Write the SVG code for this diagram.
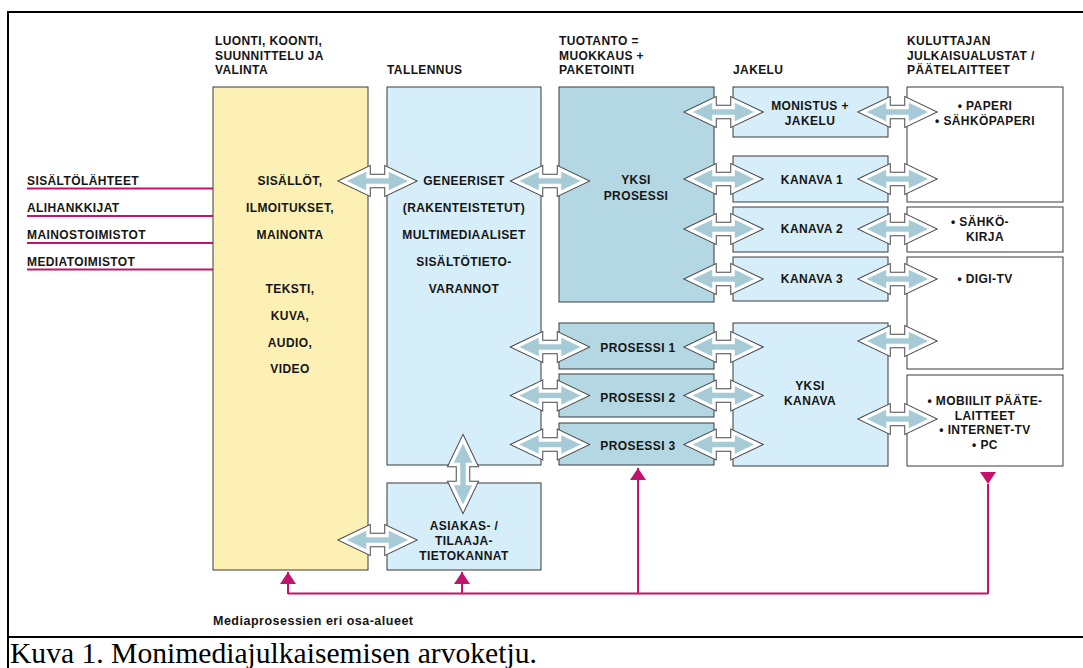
<svg xmlns="http://www.w3.org/2000/svg" xmlns:xlink="http://www.w3.org/1999/xlink" width="1083" height="668" viewBox="0 0 1083 668">
  <style>
    .lbl { font-family: "Liberation Sans", Arial, sans-serif; font-weight: bold; font-size: 12px; letter-spacing: 0.4px; fill: #151515; }
    .mid { text-anchor: middle; }
    .box { stroke: #3a3a3a; stroke-width: 1; }
    .yellow { fill: #fdf0b5; }
    .light { fill: #d5eefa; }
    .dark { fill: #b4d8e3; }
    .white { fill: #ffffff; }
    .arrow-edge { fill: none; stroke: #4a4a4a; stroke-width: 5.5; stroke-linejoin: miter; }
    .arrow-body { fill: #a6cbd7; stroke: #ffffff; stroke-width: 3.5; stroke-linejoin: miter; }
    .feed { fill: none; stroke: #c2146c; stroke-width: 2; }
    .frame { stroke: #000; stroke-width: 2; fill: none; }
    .caption { font-family: "Liberation Serif", "Times New Roman", serif; font-size: 29.6px; fill: #000; }
    .note { font-family: "Liberation Sans", Arial, sans-serif; font-weight: bold; font-size: 12.5px; letter-spacing: 0.5px; fill: #151515; }
  </style>
  <defs>
    <!-- double-headed block arrow, centred on the origin, pointing left/right -->
    <path id="dbl" d="M-34.5,0 L-9.5,-12 L-9.5,-4.5 L9.5,-4.5 L9.5,-12 L34.5,0 L9.5,12 L9.5,4.5 L-9.5,4.5 L-9.5,12 Z"/>
    <g id="harrow">
      <use xlink:href="#dbl" class="arrow-edge"/>
      <use xlink:href="#dbl" class="arrow-body"/>
    </g>
    <marker id="tri" markerUnits="userSpaceOnUse" markerWidth="12" markerHeight="16" refX="12" refY="8" orient="auto" viewBox="0 0 12 16">
      <path d="M0,0 L12,8 L0,16 Z" fill="#c2146c"/>
    </marker>
  </defs>

  <rect width="1083" height="668" fill="#ffffff"/>

  <!-- frame and caption cell -->
  <g id="frame">
    <line class="frame" x1="8" y1="12" x2="1083" y2="12"/>
    <line class="frame" x1="8" y1="11" x2="8" y2="668"/>
    <line class="frame" x1="8" y1="637" x2="1083" y2="637"/>
    <text class="caption" x="10" y="663">Kuva 1. Monimediajulkaisemisen arvoketju.</text>
  </g>

  <!-- column headings -->
  <g id="headings" class="lbl">
    <text x="215" y="45">LUONTI, KOONTI,</text>
    <text x="215" y="59.5">SUUNNITTELU JA</text>
    <text x="215" y="74">VALINTA</text>
    <text x="387" y="74">TALLENNUS</text>
    <text x="559" y="45">TUOTANTO =</text>
    <text x="559" y="59.5">MUOKKAUS +</text>
    <text x="559" y="74">PAKETOINTI</text>
    <text x="733" y="74">JAKELU</text>
    <text x="907" y="45">KULUTTAJAN</text>
    <text x="907" y="59.5">JULKAISUALUSTAT /</text>
    <text x="907" y="74">PÄÄTELAITTEET</text>
  </g>

  <!-- content sources feeding the creation column -->
  <g id="sources">
    <g class="lbl">
      <text x="27" y="185">SISÄLTÖLÄHTEET</text>
      <text x="27" y="212">ALIHANKKIJAT</text>
      <text x="27" y="238.5">MAINOSTOIMISTOT</text>
      <text x="27" y="265.5">MEDIATOIMISTOT</text>
    </g>
    <g class="feed">
      <line x1="27" y1="188.5" x2="213" y2="188.5"/>
      <line x1="27" y1="216" x2="213" y2="216"/>
      <line x1="27" y1="243" x2="213" y2="243"/>
      <line x1="27" y1="269.5" x2="213" y2="269.5"/>
    </g>
  </g>

  <g id="luonti">
    <rect class="box yellow" x="213" y="87" width="155" height="483"/>
    <g class="lbl mid">
      <text x="290" y="185">SISÄLLÖT,</text>
      <text x="290" y="212">ILMOITUKSET,</text>
      <text x="290" y="238.5">MAINONTA</text>
      <text x="290" y="293">TEKSTI,</text>
      <text x="290" y="320">KUVA,</text>
      <text x="290" y="347">AUDIO,</text>
      <text x="290" y="373">VIDEO</text>
    </g>
  </g>

  <g id="tallennus">
    <rect class="box light" x="387" y="87" width="154" height="378"/>
    <g class="lbl mid">
      <text x="464" y="185">GENEERISET</text>
      <text x="464" y="212">(RAKENTEISTETUT)</text>
      <text x="464" y="238.5">MULTIMEDIAALISET</text>
      <text x="464" y="266">SISÄLTÖTIETO-</text>
      <text x="464" y="293">VARANNOT</text>
    </g>
  </g>

  <g id="asiakas">
    <rect class="box light" x="387" y="483" width="154" height="87"/>
    <g class="lbl mid">
      <text x="464" y="530">ASIAKAS- /</text>
      <text x="464" y="545">TILAAJA-</text>
      <text x="464" y="560">TIETOKANNAT</text>
    </g>
  </g>

  <g id="yksi-prosessi">
    <rect class="box dark" x="559" y="87" width="155" height="215"/>
    <g class="lbl mid">
      <text x="636" y="184">YKSI</text>
      <text x="636" y="200">PROSESSI</text>
    </g>
  </g>

  <g id="prosessi-1">
    <rect class="box dark" x="559" y="323" width="155" height="46"/>
    <text class="lbl mid" x="638" y="352">PROSESSI 1</text>
  </g>
  <g id="prosessi-2">
    <rect class="box dark" x="559" y="374" width="155" height="43"/>
    <text class="lbl mid" x="638" y="401.5">PROSESSI 2</text>
  </g>
  <g id="prosessi-3">
    <rect class="box dark" x="559" y="423" width="155" height="42"/>
    <text class="lbl mid" x="638" y="450">PROSESSI 3</text>
  </g>

  <g id="monistus">
    <rect class="box light" x="733" y="87" width="155" height="50"/>
    <g class="lbl mid">
      <text x="810" y="110">MONISTUS +</text>
      <text x="810" y="125">JAKELU</text>
    </g>
  </g>
  <g id="kanava-1">
    <rect class="box light" x="733" y="156" width="155" height="46"/>
    <text class="lbl mid" x="812" y="184">KANAVA 1</text>
  </g>
  <g id="kanava-2">
    <rect class="box light" x="733" y="207" width="155" height="45"/>
    <text class="lbl mid" x="812" y="233">KANAVA 2</text>
  </g>
  <g id="kanava-3">
    <rect class="box light" x="733" y="257" width="155" height="44"/>
    <text class="lbl mid" x="812" y="283">KANAVA 3</text>
  </g>
  <g id="yksi-kanava">
    <rect class="box light" x="733" y="323" width="155" height="143"/>
    <g class="lbl mid">
      <text x="810" y="390">YKSI</text>
      <text x="810" y="405">KANAVA</text>
    </g>
  </g>

  <g id="paperi">
    <rect class="box white" x="907" y="87" width="156" height="115"/>
    <g class="lbl mid">
      <text x="985" y="110">• PAPERI</text>
      <text x="985" y="125">• SÄHKÖPAPERI</text>
    </g>
  </g>
  <g id="sahkokirja">
    <rect class="box white" x="907" y="207" width="156" height="45"/>
    <g class="lbl mid">
      <text x="980" y="226">• SÄHKÖ-</text>
      <text x="985" y="241">KIRJA</text>
    </g>
  </g>
  <g id="digi-tv">
    <rect class="box white" x="907" y="257" width="156" height="112"/>
    <text class="lbl mid" x="985" y="283">• DIGI-TV</text>
  </g>
  <g id="mobiilit">
    <rect class="box white" x="907" y="375" width="156" height="91"/>
    <g class="lbl mid">
      <text x="985" y="405">• MOBIILIT PÄÄTE-</text>
      <text x="985" y="419.5">LAITTEET</text>
      <text x="985" y="434">• INTERNET-TV</text>
      <text x="985" y="448.5">• PC</text>
    </g>
  </g>

  <g id="connectors">
    <!-- luonti <-> tallennus / asiakas -->
    <use xlink:href="#harrow" x="377.5" y="181"/>
    <use xlink:href="#harrow" x="377.5" y="540"/>
    <!-- tallennus <-> tuotanto -->
    <use xlink:href="#harrow" x="550" y="181"/>
    <use xlink:href="#harrow" x="550" y="347"/>
    <use xlink:href="#harrow" x="550" y="395.5"/>
    <use xlink:href="#harrow" x="550" y="444.5"/>
    <!-- tuotanto <-> jakelu -->
    <use xlink:href="#harrow" x="723.5" y="112"/>
    <use xlink:href="#harrow" x="723.5" y="179"/>
    <use xlink:href="#harrow" x="723.5" y="229"/>
    <use xlink:href="#harrow" x="723.5" y="279"/>
    <use xlink:href="#harrow" x="723.5" y="347"/>
    <use xlink:href="#harrow" x="723.5" y="395.5"/>
    <use xlink:href="#harrow" x="723.5" y="444.5"/>
    <!-- jakelu <-> kuluttajan alustat -->
    <use xlink:href="#harrow" x="897.5" y="112"/>
    <use xlink:href="#harrow" x="897.5" y="179"/>
    <use xlink:href="#harrow" x="897.5" y="229"/>
    <use xlink:href="#harrow" x="897.5" y="279"/>
    <use xlink:href="#harrow" x="897.5" y="341"/>
    <use xlink:href="#harrow" x="897.5" y="419"/>
    <!-- tallennus <-> asiakastietokannat -->
    <use xlink:href="#harrow" transform="translate(463,474) rotate(90)"/>

    <!-- feedback loop -->
    <path class="feed" d="M288,593.5 H988"/>
    <path class="feed" d="M288,594 V572" marker-end="url(#tri)"/>
    <path class="feed" d="M462,594 V572" marker-end="url(#tri)"/>
    <path class="feed" d="M638,594 V468" marker-end="url(#tri)"/>
    <path class="feed" d="M988,484 V594" marker-start="url(#tri)"/>
    <text class="note" x="213" y="625">Mediaprosessien eri osa-alueet</text>
  </g>
</svg>
